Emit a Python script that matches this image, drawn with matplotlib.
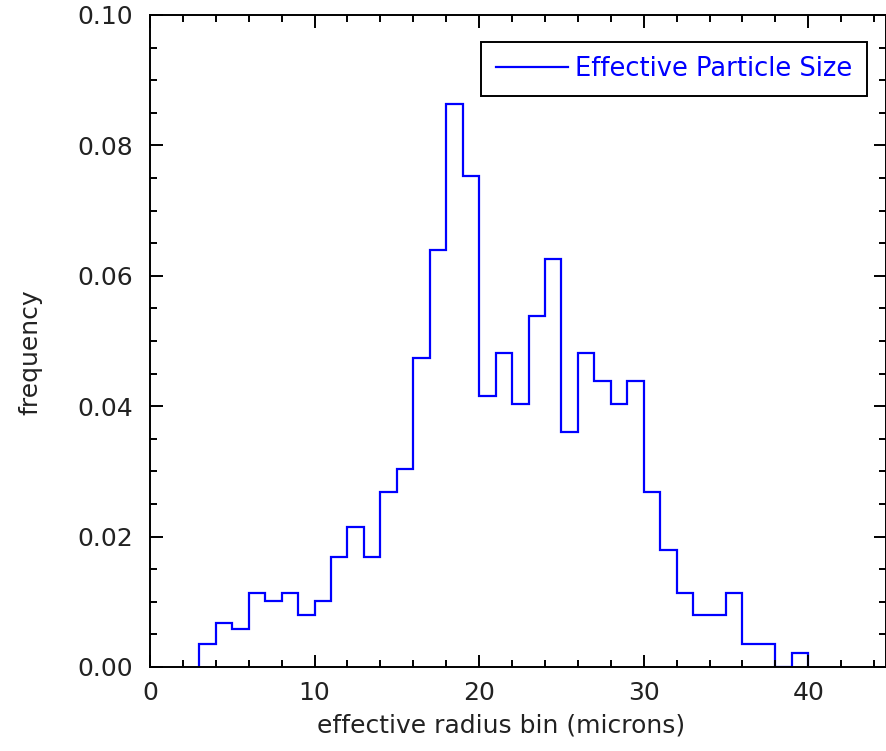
import numpy as np
import matplotlib
matplotlib.use('Agg')
import matplotlib.pyplot as plt
from matplotlib.lines import Line2D
from matplotlib.ticker import MultipleLocator

# bin edges (microns) and frequency per bin
bin_edges = np.arange(3, 41)
freq = [0.0035, 0.0067, 0.0058, 0.0114, 0.0101, 0.0114, 0.0080, 0.0101,
        0.0168, 0.0214, 0.0168, 0.0268, 0.0303, 0.0474, 0.0640, 0.0863,
        0.0753, 0.0416, 0.0482, 0.0404, 0.0538, 0.0626, 0.0360, 0.0482,
        0.0438, 0.0404, 0.0438, 0.0268, 0.0180, 0.0113, 0.0080, 0.0080,
        0.0113, 0.0035, 0.0035, 0.0, 0.0022]
label = 'Effective Particle Size'

txt = '#222222'
plt.rcParams['font.family'] = ['DejaVu Sans']
plt.rcParams['font.size'] = 18

fig = plt.figure(figsize=(8.87, 7.51), dpi=100)
ax = fig.add_axes([150/887, 1-667/751, 736.5/887, 652/751])

ax.stairs(freq, bin_edges, color='blue', linewidth=1.6, baseline=0)

ax.set_xlim(0, 44.75)
ax.set_ylim(0, 0.10)
ax.xaxis.set_major_locator(MultipleLocator(10))
ax.xaxis.set_minor_locator(MultipleLocator(2))
ax.yaxis.set_major_locator(MultipleLocator(0.02))
ax.yaxis.set_minor_locator(MultipleLocator(0.005))
ax.yaxis.set_major_formatter(matplotlib.ticker.FormatStrFormatter('%.2f'))

ax.tick_params(which='both', direction='in', top=True, right=True,
               width=1.4, colors='black', labelcolor=txt)
ax.tick_params(which='major', length=9)
ax.tick_params(which='minor', length=5)
ax.tick_params(axis='x', which='major', pad=10)
ax.tick_params(axis='y', which='major', pad=12.5)
for s in ax.spines.values():
    s.set_linewidth(1.4)

ax.set_xlabel('effective radius bin (microns)', color=txt)
ax.set_ylabel('frequency', color=txt)
ax.xaxis.set_label_coords(0.4766, -0.0706)
ax.yaxis.set_label_coords(-0.1466, 0.483)

h = Line2D([], [], color='blue', linewidth=1.6)
leg = ax.legend([h], [label], loc='upper right', bbox_to_anchor=(0.973, 0.959),
                borderaxespad=0, fancybox=False, framealpha=1,
                edgecolor='black', handlelength=2.8, handletextpad=0.3,
                borderpad=0.55, fontsize=18.5)
leg.get_frame().set_linewidth(1.4)
for t in leg.get_texts():
    t.set_color('blue')

fig.savefig('out.png', dpi=100)
